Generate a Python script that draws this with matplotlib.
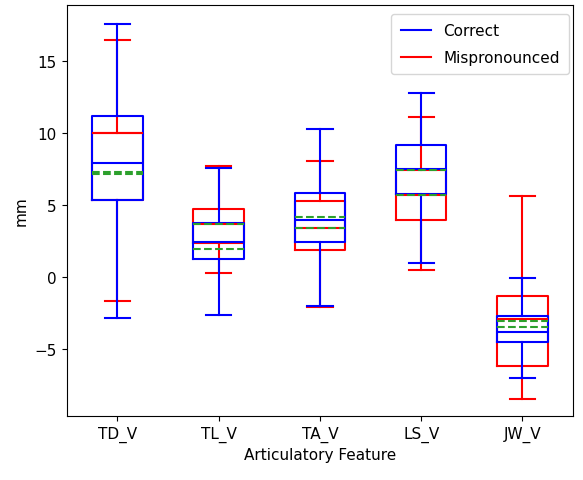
import matplotlib
matplotlib.use("Agg")
from matplotlib import pyplot as plt
from matplotlib.lines import Line2D

features = ["TD_V", "TL_V", "TA_V", "LS_V", "JW_V"]

# Correct (blue): whisker low, q1, median, q3, whisker high, mean
cor_whislo = [-2.8, -2.64, -1.99, 1.02, -6.99]
cor_q1 = [5.37, 1.3, 2.45, 5.76, -4.45]
cor_med = [7.94, 2.46, 3.96, 7.5, -3.8]
cor_q3 = [11.2, 3.8, 5.88, 9.17, -2.66]
cor_whishi = [17.62, 7.62, 10.33, 12.83, -0.04]
cor_mean = [7.35, 1.94, 4.19, 7.45, -3.47]

# Mispronounced (red)
mis_whislo = [-1.67, 0.3, -2.08, 0.53, -8.47]
mis_q1 = [5.35, 2.4, 1.9, 3.96, -6.13]
mis_med = [10.0, 3.74, 3.45, 5.72, -2.87]
mis_q3 = [10.0, 4.77, 5.28, 7.48, -1.29]
mis_whishi = [16.48, 7.74, 8.08, 11.11, 5.66]
mis_mean = [7.15, 3.74, 3.45, 5.74, -3.05]

plt.rcParams["font.size"] = 11


def make_stats(lo, q1, med, q3, hi, mean):
    stats = []
    for i in range(len(lo)):
        stats.append({"whislo": lo[i], "q1": q1[i], "med": med[i], "q3": q3[i],
                      "whishi": hi[i], "mean": mean[i], "fliers": []})
    return stats


def draw(ax, stats, color):
    lw = 1.5
    ax.bxp(stats, positions=range(1, len(stats) + 1), widths=0.5,
           showmeans=True, meanline=True, showfliers=False,
           boxprops=dict(color=color, linewidth=lw),
           whiskerprops=dict(color=color, linewidth=lw),
           capprops=dict(color=color, linewidth=lw),
           medianprops=dict(color=color, linewidth=lw),
           meanprops=dict(color="#2ca02c", linestyle="--", linewidth=lw))


fig = plt.figure(figsize=(5.83, 4.81), dpi=100)
ax = fig.add_axes([0.1144, 0.1337, 0.8686, 0.8533])

draw(ax, make_stats(mis_whislo, mis_q1, mis_med, mis_q3, mis_whishi, mis_mean), "red")
draw(ax, make_stats(cor_whislo, cor_q1, cor_med, cor_q3, cor_whishi, cor_mean), "blue")

ax.set_xticks(range(1, len(features) + 1))
ax.set_xticklabels(features)
ax.set_xlim(0.5, 5.5)
ax.set_ylim(-9.6, 18.9)
ax.set_ylabel("mm")
ax.set_xlabel("Articulatory Feature")

handles = [Line2D([0], [0], color="blue", linewidth=1.5),
           Line2D([0], [0], color="red", linewidth=1.5)]
ax.legend(handles, ["Correct", "Mispronounced"], loc="upper right",
          bbox_to_anchor=(0.992, 0.979), borderaxespad=0,
          labelspacing=0.8, borderpad=0.6)

fig.savefig("out.png")
